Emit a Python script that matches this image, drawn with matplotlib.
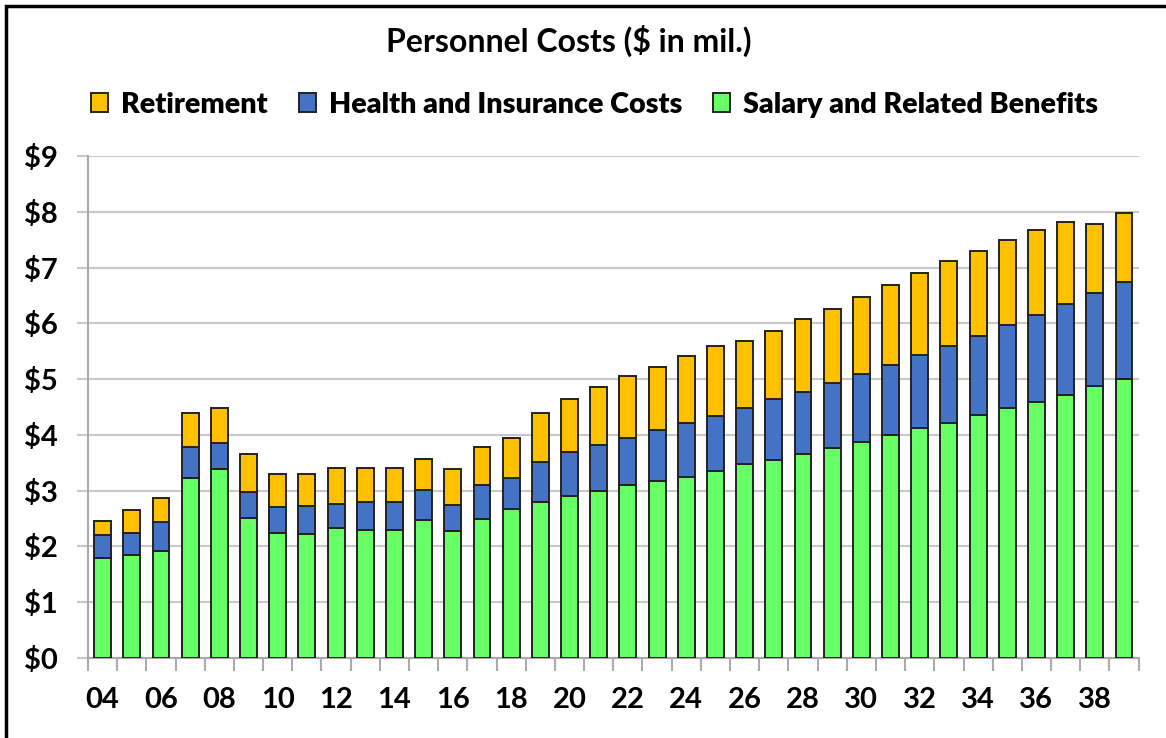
import matplotlib
matplotlib.use('Agg')
import matplotlib.pyplot as plt
from matplotlib.patches import Rectangle
import numpy as np

years = ['04', '05', '06', '07', '08', '09', '10', '11', '12', '13', '14', '15',
         '16', '17', '18', '19', '20', '21', '22', '23', '24', '25', '26', '27',
         '28', '29', '30', '31', '32', '33', '34', '35', '36', '37', '38', '39']

# cumulative tops
salary_top = [1.79, 1.85, 1.92, 3.22, 3.38, 2.51, 2.24, 2.22, 2.33, 2.29, 2.29, 2.48,
              2.28, 2.49, 2.67, 2.80, 2.91, 2.99, 3.10, 3.17, 3.25, 3.36, 3.47, 3.55,
              3.65, 3.77, 3.87, 4.00, 4.12, 4.22, 4.35, 4.48, 4.59, 4.72, 4.88, 5.01]
health_top = [2.21, 2.24, 2.43, 3.78, 3.86, 2.98, 2.70, 2.72, 2.77, 2.80, 2.80, 3.01,
              2.75, 3.10, 3.23, 3.51, 3.70, 3.81, 3.95, 4.08, 4.21, 4.34, 4.48, 4.64,
              4.77, 4.93, 5.09, 5.25, 5.44, 5.59, 5.78, 5.97, 6.15, 6.34, 6.55, 6.74]
total_top = [2.46, 2.65, 2.86, 4.39, 4.49, 3.65, 3.30, 3.30, 3.41, 3.41, 3.41, 3.57,
             3.39, 3.79, 3.95, 4.40, 4.64, 4.85, 5.06, 5.22, 5.41, 5.60, 5.68, 5.86,
             6.07, 6.26, 6.48, 6.69, 6.90, 7.12, 7.30, 7.49, 7.67, 7.81, 7.78, 7.97]

salary = np.array(salary_top)
health = np.array(health_top) - salary
retirement = np.array(total_top) - np.array(health_top)

plt.rcParams['font.family'] = ['Lato', 'DejaVu Sans']

fig = plt.figure(figsize=(11.66, 7.38), dpi=100)
ax = fig.add_axes([0.0755, 0.1084, 0.9010, 0.6802])

x = np.arange(len(years))
w = 0.58
edge = dict(edgecolor='#222222', linewidth=1.4, zorder=3)
b1 = ax.bar(x, salary, w, color='#66FF66', label='Salary and Related Benefits', **edge)
b2 = ax.bar(x, health, w, bottom=salary, color='#4472C4', label='Health and Insurance Costs', **edge)
b3 = ax.bar(x, retirement, w, bottom=salary + health, color='#FFC000', label='Retirement', **edge)

ax.set_xlim(-0.5, len(years) - 0.5)
ax.set_ylim(0, 9)
ax.set_yticks(range(10))
ax.set_yticklabels(['$%d' % v for v in range(10)], fontsize=21, fontweight='bold')
ax.yaxis.grid(True, color='#c8c8c8', linewidth=1.5, zorder=0)
ax.set_axisbelow(True)

ax.set_xticks(x[::2])
ax.set_xticklabels(years[::2], fontsize=21, fontweight='bold')
ax.set_xticks(np.arange(-0.5, len(years)), minor=True)
ax.tick_params(axis='x', which='major', length=0, pad=21)
ax.tick_params(axis='x', which='minor', length=9, width=1.5, color='#aaaaaa', direction='out')
ax.tick_params(axis='y', length=8, width=1.5, color='#c8c8c8', pad=14)

for side in ['top', 'right']:
    ax.spines[side].set_visible(False)
for side in ['left', 'bottom']:
    ax.spines[side].set_color('#aaaaaa')
    ax.spines[side].set_linewidth(1.5)

fig.text(0.488, 0.9295, 'Personnel Costs ($ in mil.)', ha='center', va='baseline',
         fontsize=23, fontweight='bold')
leg = fig.legend(handles=[b3, b2, b1], loc='center', bbox_to_anchor=(0.510, 0.858), ncol=3,
                 frameon=False, fontsize=20.6,
                 handlelength=0.58, handleheight=0.65, handletextpad=0.45, columnspacing=1.1)
for t in leg.get_texts():
    t.set_fontweight('heavy')

fig.patches.append(Rectangle((6 / 1166, -0.01), 1.2, 1 - 6 / 738 + 0.01, transform=fig.transFigure,
                             fill=False, edgecolor='black', linewidth=2.5))

fig.savefig('out.png', dpi=100)
